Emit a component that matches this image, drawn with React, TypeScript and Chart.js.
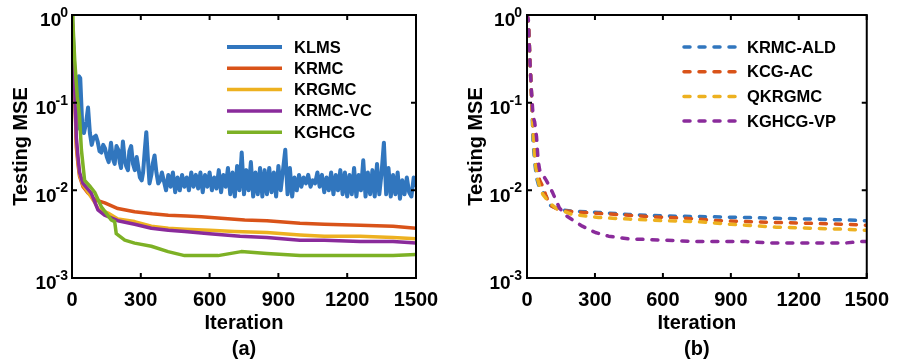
import React, { useEffect, useRef } from 'react';
import { Chart, registerables } from 'chart.js';

Chart.register(...registerables);

const FONT = '"Liberation Sans", Arial, Helvetica, sans-serif';

// ---- axes ----
const iterTicks = [0, 300, 600, 900, 1200, 1500];
const iterTickLabels = ['0', '300', '600', '900', '1200', '1500'];
const mseTicks = [0.001, 0.01, 0.1, 1];
const mseTickExp = ['-3', '-2', '-1', '0'];

// ---- panel (a) ----
const klmsIter = [0, 8, 16, 22, 30, 36, 44, 52, 62, 70, 78, 86, 94, 104, 112, 120, 128, 136, 144, 152, 160, 170, 178, 186, 194, 202, 208, 214, 222, 230, 236, 244, 250, 258, 266, 274, 282, 288, 296, 304, 310, 318, 324, 330, 338, 346, 352, 360, 368, 376, 384, 392,
  400, 410, 420, 430, 440, 450, 460, 470, 480, 490, 500, 510, 520, 530, 540, 550, 560, 570, 580, 590, 600, 610, 620, 630, 640, 650, 660, 670, 680, 690, 700, 710, 720, 730, 740, 750, 760, 770, 780, 790, 800, 810, 820, 830, 840, 850, 860, 870, 880, 890, 900, 910, 920, 930, 940, 950, 960, 970, 980, 990,
  1000, 1010, 1020, 1030, 1040, 1050, 1060, 1070, 1080, 1090, 1100, 1110, 1120, 1130, 1140, 1150, 1160, 1170, 1180, 1190, 1200, 1210, 1220, 1230, 1240, 1250, 1260, 1270, 1280, 1290, 1300, 1310, 1320, 1330, 1340, 1350, 1360, 1370, 1380, 1390, 1400, 1410, 1420, 1430, 1440, 1450, 1460, 1470, 1480, 1490, 1500];
const klmsMse = [1.0, 0.35, 0.08, 0.05, 0.2, 0.19, 0.06, 0.045, 0.06, 0.088, 0.045, 0.033, 0.04, 0.042, 0.036, 0.028, 0.027, 0.033, 0.03, 0.024, 0.021, 0.035, 0.023, 0.02, 0.032, 0.029, 0.021, 0.018, 0.036, 0.022, 0.019, 0.017, 0.028, 0.032, 0.02, 0.017, 0.024, 0.019, 0.014, 0.013, 0.016, 0.03, 0.046, 0.025, 0.012, 0.015, 0.02, 0.025, 0.016, 0.012, 0.013, 0.016,
  0.013, 0.010, 0.015, 0.011, 0.016, 0.0095, 0.014, 0.010, 0.015, 0.011, 0.014, 0.010, 0.016, 0.011, 0.015, 0.0105, 0.016, 0.0095, 0.015, 0.011, 0.016, 0.010, 0.014, 0.0105, 0.017, 0.0095, 0.015, 0.011, 0.018, 0.009, 0.016, 0.0085, 0.019, 0.010, 0.027, 0.009, 0.017, 0.010, 0.021, 0.0085, 0.016, 0.009, 0.018, 0.0085, 0.017, 0.009, 0.018, 0.0095, 0.016, 0.0085, 0.019, 0.010, 0.017, 0.029, 0.009, 0.018, 0.0085, 0.014, 0.010, 0.015,
  0.011, 0.014, 0.012, 0.015, 0.011, 0.013, 0.012, 0.016, 0.011, 0.015, 0.0095, 0.014, 0.010, 0.016, 0.009, 0.015, 0.010, 0.017, 0.009, 0.016, 0.0085, 0.015, 0.009, 0.018, 0.0085, 0.015, 0.010, 0.022, 0.0085, 0.016, 0.009, 0.017, 0.0085, 0.020, 0.009, 0.016, 0.035, 0.009, 0.018, 0.0085, 0.015, 0.009, 0.016, 0.008, 0.013, 0.009, 0.014, 0.0095, 0.0085, 0.014, 0.011];

const krmcIter = [0, 5, 12, 19, 26, 33, 48, 70, 100, 143, 200, 273, 350, 420, 500, 564, 650, 753, 850, 994, 1100, 1256, 1400, 1500];
const krmcMse = [1.0, 0.48, 0.13, 0.031, 0.02, 0.0144, 0.011, 0.0093, 0.0078, 0.0072, 0.0062, 0.0057, 0.0054, 0.0052, 0.0051, 0.005, 0.0048, 0.0046, 0.0045, 0.0042, 0.0041, 0.004, 0.0039, 0.0037];

const krgmcIter = [0, 5, 12, 19, 26, 33, 48, 70, 100, 113, 157, 200, 273, 346, 420, 491, 600, 709, 850, 994, 1100, 1256, 1400, 1500];
const krgmcMse = [1.0, 0.5, 0.14, 0.035, 0.022, 0.015, 0.0115, 0.0095, 0.0072, 0.0062, 0.0055, 0.0047, 0.0044, 0.0039, 0.0037, 0.0036, 0.0035, 0.0034, 0.0033, 0.0031, 0.003, 0.003, 0.0029, 0.0028];

const krmcvcIter = [0, 5, 12, 19, 26, 33, 48, 84, 113, 142, 200, 273, 346, 420, 491, 600, 733, 850, 994, 1100, 1256, 1400, 1500];
const krmcvcMse = [1.0, 0.5, 0.14, 0.04, 0.024, 0.016, 0.012, 0.0093, 0.006, 0.0052, 0.0045, 0.0041, 0.0037, 0.0035, 0.0034, 0.0032, 0.003, 0.0029, 0.0027, 0.0027, 0.0026, 0.0026, 0.0025];

const kghcgIter = [0, 4, 12, 23, 33, 41, 55, 80, 99, 128, 171, 186, 193, 230, 273, 346, 419, 491, 560, 637, 738, 850, 994, 1100, 1256, 1400, 1500];
const kghcgMse = [1.0, 0.81, 0.3, 0.117, 0.069, 0.029, 0.013, 0.011, 0.0095, 0.0065, 0.0046, 0.0044, 0.0032, 0.0027, 0.0025, 0.0023, 0.002, 0.0018, 0.0018, 0.0018, 0.002, 0.0019, 0.0018, 0.0018, 0.0018, 0.0018, 0.00186];

// ---- panel (b) ----
const aldIter = [0, 6, 13, 20, 27, 35, 42, 49, 56, 70, 85, 100, 143, 200, 316, 450, 606, 800, 967, 1100, 1256, 1400, 1500];
const aldMse = [1.0, 0.85, 0.3, 0.12, 0.034, 0.02, 0.014, 0.012, 0.0105, 0.0095, 0.0085, 0.0068, 0.006, 0.0058, 0.0056, 0.0053, 0.0051, 0.005, 0.0049, 0.0048, 0.0047, 0.0046, 0.0045];

const kcgIter = [0, 6, 13, 20, 27, 35, 45, 56, 70, 85, 100, 130, 170, 250, 400, 550, 700, 850, 967, 1100, 1256, 1400, 1500];
const kcgMse = [1.0, 0.85, 0.3, 0.12, 0.05, 0.03, 0.018, 0.013, 0.011, 0.0085, 0.0068, 0.0062, 0.0058, 0.0056, 0.0053, 0.005, 0.0048, 0.0045, 0.0044, 0.0043, 0.0042, 0.0041, 0.004];

const qkrgmcIter = [0, 6, 13, 20, 27, 35, 45, 56, 70, 85, 100, 130, 200, 316, 450, 606, 750, 900, 967, 1100, 1256, 1400, 1500];
const qkrgmcMse = [1.0, 0.85, 0.3, 0.12, 0.045, 0.022, 0.014, 0.011, 0.009, 0.008, 0.0072, 0.0062, 0.0053, 0.0049, 0.0047, 0.0045, 0.0044, 0.0041, 0.004, 0.0038, 0.0037, 0.0036, 0.0035];

const vpIter = [0, 6, 13, 20, 27, 34, 42, 49, 56, 70, 85, 100, 114, 143, 170, 201, 244, 302, 360, 446, 606, 764, 967, 1100, 1256, 1400, 1473, 1500];
const vpMse = [1.0, 0.88, 0.3, 0.13, 0.069, 0.06, 0.041, 0.022, 0.017, 0.015, 0.013, 0.011, 0.0093, 0.0063, 0.0052, 0.0046, 0.0039, 0.0033, 0.003, 0.0028, 0.0027, 0.0026, 0.0026, 0.0025, 0.0025, 0.0025, 0.0026, 0.0026];

const BLUE = '#3176BE';
const ORANGE = '#D95319';
const YELLOW = '#EDB120';
const PURPLE = '#8A2B9B';
const GREEN = '#7DB125';

const toPts = (xs: number[], ys: number[]) => xs.map((x, i) => ({ x, y: ys[i] }));

const panelPlugin = {
  id: 'panel',
  afterDatasetsDraw(chart: any, _args: any, opts: any) {
    const { ctx, chartArea } = chart;
    const { left, right, top, bottom } = chartArea;
    const xs = chart.scales.x;
    const ys = chart.scales.y;
    ctx.save();
    ctx.setLineDash([]);
    ctx.strokeStyle = '#000';
    ctx.lineWidth = 2;
    ctx.lineCap = 'butt';
    ctx.strokeRect(left, top, right - left, bottom - top);
    ctx.beginPath();
    xs.ticks.forEach((t: any) => {
      const p = xs.getPixelForValue(t.value);
      ctx.moveTo(p, bottom); ctx.lineTo(p, bottom - 5);
      ctx.moveTo(p, top); ctx.lineTo(p, top + 5);
    });
    ys.ticks.forEach((t: any) => {
      const p = ys.getPixelForValue(t.value);
      ctx.moveTo(left, p); ctx.lineTo(left + 5, p);
      ctx.moveTo(right, p); ctx.lineTo(right - 5, p);
    });
    ctx.stroke();

    // y tick labels 10^n
    ctx.fillStyle = '#000';
    ctx.textBaseline = 'middle';
    ctx.textAlign = 'right';
    ys.ticks.forEach((t: any) => {
      const idx = mseTicks.findIndex((v) => Math.abs(v - t.value) < v * 1e-6);
      if (idx < 0) return;
      const exp = mseTickExp[idx];
      const p = ys.getPixelForValue(t.value);
      const ex = left - opts.labelGap;
      ctx.font = `bold 14px ${FONT}`;
      const ew = ctx.measureText(exp).width;
      ctx.fillText(exp, ex, p - 2);
      ctx.font = `bold 19px ${FONT}`;
      ctx.fillText('10', ex - ew + 1, p + 6);
    });

    // legend
    const lg = opts.legend;
    ctx.textAlign = 'left';
    ctx.font = `bold 16.5px ${FONT}`;
    chart.data.datasets.forEach((ds: any, i: number) => {
      const y = lg.y0 + lg.dy * i;
      ctx.beginPath();
      ctx.strokeStyle = ds.borderColor;
      ctx.lineWidth = ds.borderWidth;
      ctx.lineCap = ds.borderCapStyle || 'butt';
      ctx.setLineDash(ds.borderDash || []);
      ctx.moveTo(lg.x1, y);
      ctx.lineTo(lg.x2, y);
      ctx.stroke();
      ctx.setLineDash([]);
      ctx.fillStyle = '#000';
      ctx.fillText(ds.label, lg.textX, y + 1);
    });
    ctx.restore();
  },
};

type Series = { label: string; iter: number[]; mse: number[]; color: string; width: number; dash?: number[] };

function Panel(props: {
  width: number; height: number; axisLeft: number; padRight: number; yTitlePad: number; labelGap: number;
  caption: string; series: Series[]; legend: { x1: number; x2: number; textX: number; y0: number; dy: number };
}) {
  const ref = useRef<HTMLCanvasElement | null>(null);
  useEffect(() => {
    if (!ref.current) return;
    const n = props.series.length;
    const chart = new Chart(ref.current, {
      type: 'line',
      data: {
        datasets: props.series.map((s, i) => ({
          label: s.label,
          data: toPts(s.iter, s.mse),
          borderColor: s.color,
          backgroundColor: s.color,
          borderWidth: s.width,
          borderDash: s.dash,
          borderCapStyle: s.dash ? 'round' : 'butt',
          borderJoinStyle: 'round',
          pointRadius: 0,
          tension: 0,
          fill: false,
          order: n - i,
        })) as any,
      },
      options: {
        responsive: false,
        animation: false,
        devicePixelRatio: 1,
        layout: { padding: { left: 0, right: props.padRight, top: 15, bottom: 0 } },
        plugins: {
          legend: { display: false },
          tooltip: { enabled: false },
          panel: { labelGap: props.labelGap, legend: props.legend },
        } as any,
        scales: {
          x: {
            type: 'linear',
            min: 0,
            max: 1500,
            grid: { display: false, drawTicks: false },
            border: { display: false },
            ticks: {
              stepSize: 300,
              padding: 10,
              color: '#000',
              maxRotation: 0,
              font: { family: FONT, size: 20, weight: 'bold' },
              callback: (v: any) => {
                const i = iterTicks.indexOf(Number(v));
                return i >= 0 ? iterTickLabels[i] : '';
              },
            },
            afterBuildTicks: (scale: any) => { scale.ticks = iterTicks.map((v) => ({ value: v })); },
            afterFit: (scale: any) => { scale.height = props.height - 278; },
            title: {
              display: true,
              text: ['Iteration', props.caption],
              color: '#000',
              font: { family: FONT, size: 20, weight: 'bold', lineHeight: 1.3 },
              padding: { top: 0, bottom: 1 },
            },
          },
          y: {
            type: 'logarithmic',
            min: 0.001,
            max: 1,
            grid: { display: false, drawTicks: false },
            border: { display: false },
            ticks: { display: false },
            afterBuildTicks: (scale: any) => { scale.ticks = mseTicks.map((v) => ({ value: v })); },
            afterFit: (scale: any) => { scale.width = props.axisLeft; },
            title: {
              display: true,
              text: 'Testing MSE',
              color: '#000',
              font: { family: FONT, size: 20, weight: 'bold' },
              padding: { top: props.yTitlePad, bottom: 0 },
            },
          },
        } as any,
      },
      plugins: [panelPlugin as any],
    });
    return () => chart.destroy();
  }, []);
  return <canvas ref={ref} width={props.width} height={props.height} style={{ display: 'block', width: props.width, height: props.height }} />;
}

export default function App() {
  const seriesA: Series[] = [
    { label: 'KLMS', iter: klmsIter, mse: klmsMse, color: BLUE, width: 4 },
    { label: 'KRMC', iter: krmcIter, mse: krmcMse, color: ORANGE, width: 3.5 },
    { label: 'KRGMC', iter: krgmcIter, mse: krgmcMse, color: YELLOW, width: 3.5 },
    { label: 'KRMC-VC', iter: krmcvcIter, mse: krmcvcMse, color: PURPLE, width: 3.5 },
    { label: 'KGHCG', iter: kghcgIter, mse: kghcgMse, color: GREEN, width: 3.5 },
  ];
  const seriesB: Series[] = [
    { label: 'KRMC-ALD', iter: aldIter, mse: aldMse, color: BLUE, width: 3.5, dash: [6, 9] },
    { label: 'KCG-AC', iter: kcgIter, mse: kcgMse, color: ORANGE, width: 3.5, dash: [6, 9] },
    { label: 'QKRGMC', iter: qkrgmcIter, mse: qkrgmcMse, color: YELLOW, width: 3.5, dash: [6, 9] },
    { label: 'KGHCG-VP', iter: vpIter, mse: vpMse, color: PURPLE, width: 3.5, dash: [6, 9] },
  ];
  return (
    <div style={{ position: 'absolute', left: 0, top: 0, width: 899, height: 363, display: 'flex', background: '#fff' }}>
      <Panel width={450} height={363} axisLeft={72} padRight={34} yTitlePad={9} labelGap={4} caption="(a)"
        series={seriesA} legend={{ x1: 227, x2: 282, textX: 294, y0: 47, dy: 21.3 }} />
      <Panel width={449} height={363} axisLeft={77} padRight={26} yTitlePad={14} labelGap={5} caption="(b)"
        series={seriesB} legend={{ x1: 234, x2: 288, textX: 297, y0: 47, dy: 24.7 }} />
    </div>
  );
}
